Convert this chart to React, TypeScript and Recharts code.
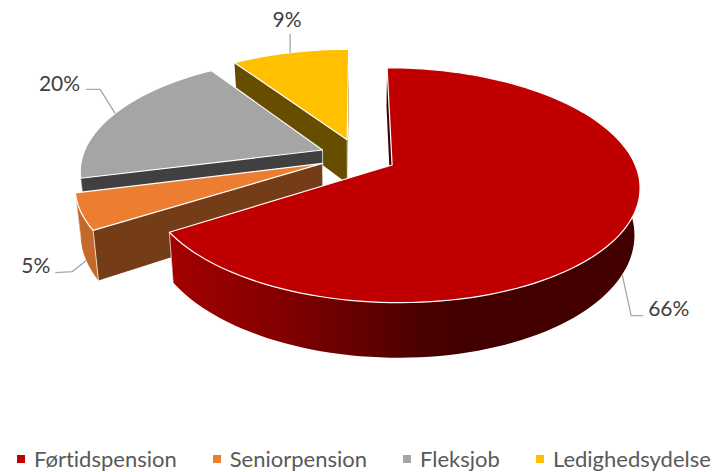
import React from 'react';
import { PieChart, Pie, Legend } from 'recharts';

const categories = ['Førtidspension', 'Seniorpension', 'Fleksjob', 'Ledighedsydelse'];
const shares = [66, 5, 19.64, 9.36];
const topColors = ['#C00000', '#ED7D31', '#A5A5A5', '#FFC000'];
const faceColors = ['#420000', '#743D18', '#404040', '#664D00'];
const rimColors = ['url(#redRim)', '#C4692A', '#404040', '#664D00'];

// Leader and text offsets from the slice's rim anchor
const leaderOffsets: Record<string, number[][]> = {
  'Førtidspension': [[9, 41], [21, 41]],
  'Seniorpension': [[-14, 11], [-31, 12]],
  'Fleksjob': [[-15, -24], [-29, -24]],
  'Ledighedsydelse': [[0, -19]],
};
const textOffsets: Record<string, [number, number, string]> = {
  'Førtidspension': [26, 41, 'start'],
  'Seniorpension': [-36, 12, 'end'],
  'Fleksjob': [-35, -22, 'end'],
  'Ledighedsydelse': [-3, -26, 'middle'],
};

// Painter's order: the far slices first, the red one last.
const table = categories
  .map((name, i) => ({ name, value: shares[i], fill: topColors[i], face: faceColors[i], rim: rimColors[i] }))
  .reverse();

const FONT = 'Lato, "Open Sans", sans-serif';
const SQUASH = 111 / 240;
const PERSPECTIVE = 0.17;
const EXPLODE = 0.16;
const DEPTH = 45;
const BOTTOM_SCALE = 0.98;
const RAD = Math.PI / 180;

function project(cx: number, cy: number, r: number, u: number, v: number, bottom: boolean): [number, number] {
  const w = 1 + PERSPECTIVE * v;
  const k = bottom ? BOTTOM_SCALE : 1;
  return [cx + (r * u * k) / w, cy - (r * SQUASH * v) / w + (bottom ? DEPTH / w : 0)];
}
const toPath = (pts: [number, number][], close = true) =>
  pts.map((p, i) => `${i ? 'L' : 'M'}${p[0].toFixed(2)},${p[1].toFixed(2)}`).join('') + (close ? 'Z' : '');

function Slice3D(props: any) {
  const { cx, cy, outerRadius: r, startAngle, endAngle, fill } = props;
  const face = props.face ?? props.payload?.face;
  const rim = props.rim ?? props.payload?.rim;
  const mid = ((startAngle + endAngle) / 2) * RAD;
  const ox = EXPLODE * Math.cos(mid);
  const oy = EXPLODE * Math.sin(mid);
  const steps = Math.max(8, Math.ceil(Math.abs(endAngle - startAngle) / 2));
  const topArc: [number, number][] = [];
  const rimTop: [number, number][] = [];
  const rimLow: [number, number][] = [];
  for (let i = 0; i <= steps; i++) {
    const a = (startAngle + ((endAngle - startAngle) * i) / steps) * RAD;
    const u = ox + Math.cos(a);
    const v = oy + Math.sin(a);
    topArc.push(project(cx, cy, r, u, v, false));
    if (Math.sin(a) < 0.02) {
      rimTop.push(project(cx, cy, r, u, v, false));
      rimLow.push(project(cx, cy, r, u, v, true));
    }
  }
  const n = topArc.length - 1;
  const apexTop = project(cx, cy, r, ox, oy, false);
  const apexLow = project(cx, cy, r, ox, oy, true);
  const endPoint = (deg: number, bottom: boolean) =>
    project(cx, cy, r, ox + Math.cos(deg * RAD), oy + Math.sin(deg * RAD), bottom);
  const verticals: [number, number][][] = [[apexTop, apexLow]];
  [startAngle, endAngle].forEach((deg: number) => {
    if (Math.sin(deg * RAD) < -0.02) verticals.push([endPoint(deg, false), endPoint(deg, true)]);
  });
  return (
    <g>
      <defs>
        <linearGradient id="redRim" gradientUnits="userSpaceOnUse" x1="170" y1="0" x2="470" y2="0">
          <stop offset="0" stopColor="#A40000" />
          <stop offset="0.4" stopColor="#800000" />
          <stop offset="0.85" stopColor="#4A0000" />
          <stop offset="1" stopColor="#420000" />
        </linearGradient>
      </defs>
      <path d={toPath([apexTop, topArc[0], endPoint(startAngle, true), apexLow])} fill={face} />
      <path d={toPath([apexTop, topArc[n], endPoint(endAngle, true), apexLow])} fill={face} />
      {rimTop.length > 1 && <path d={toPath([...rimTop, ...[...rimLow].reverse()])} fill={rim} />}
      {verticals.map((seg, i) => (
        <path key={i} d={toPath(seg, false)} stroke="#FFFFFF" strokeOpacity={0.7} strokeWidth={1} fill="none" />
      ))}
      <path d={toPath([apexTop, ...topArc])} fill={fill} stroke="#FFFFFF" strokeWidth={1.2} strokeLinejoin="round" />
    </g>
  );
}

function anchorOf(p: any): [number, number] {
  const mid = p.midAngle * RAD;
  const u = (1 + EXPLODE) * Math.cos(mid);
  const v = (1 + EXPLODE) * Math.sin(mid);
  return project(p.cx, p.cy, p.outerRadius, u, v, v < 0);
}

function PercentLabel(p: any) {
  const [x, y] = anchorOf(p);
  const [dx, dy, anchor] = textOffsets[p.name];
  return (
    <text x={x + dx} y={y + dy} textAnchor={anchor} fontFamily={FONT} fontSize={21} fill="#404040">
      {`${Math.round(p.percent * 100)}%`}
    </text>
  );
}

function LeaderLine(p: any) {
  const [x, y] = anchorOf(p);
  const pts = leaderOffsets[p.name].map(([dx, dy]) => [x + dx, y + dy] as [number, number]);
  return <path d={toPath([[x, y], ...pts], false)} fill="none" stroke="#A6A6A6" strokeWidth={1.3} />;
}

function LegendRow() {
  return (
    <div
      style={{
        position: 'absolute',
        left: 17,
        top: 445,
        display: 'flex',
        gap: 36,
        whiteSpace: 'nowrap',
        fontFamily: FONT,
        fontSize: 22,
        lineHeight: '28px',
        fontVariantLigatures: 'none',
        color: '#595959',
      }}
    >
      {categories.map((c, i) => (
        <div key={c} style={{ display: 'flex', alignItems: 'center', gap: 9 }}>
          <span style={{ width: 8, height: 8, background: topColors[i], display: 'inline-block' }} />
          <span>{c}</span>
        </div>
      ))}
    </div>
  );
}

export default function App() {
  return (
    <div style={{ position: 'absolute', left: 0, top: 0, width: 722, height: 472, background: '#fff', overflow: 'hidden' }}>
      <PieChart width={722} height={472} margin={{ top: 0, right: 0, bottom: 0, left: 0 }}>
        <Pie
          data={table}
          dataKey="value"
          nameKey="name"
          cx={358}
          cy={156.3}
          outerRadius={240}
          startAngle={90}
          endAngle={450}
          stroke="none"
          isAnimationActive={false}
          shape={Slice3D}
          label={PercentLabel}
          labelLine={LeaderLine}
        />
        <Legend content={() => <LegendRow />} wrapperStyle={{ position: 'absolute', left: 0, top: 0, width: 0, height: 0 }} />
      </PieChart>
    </div>
  );
}
